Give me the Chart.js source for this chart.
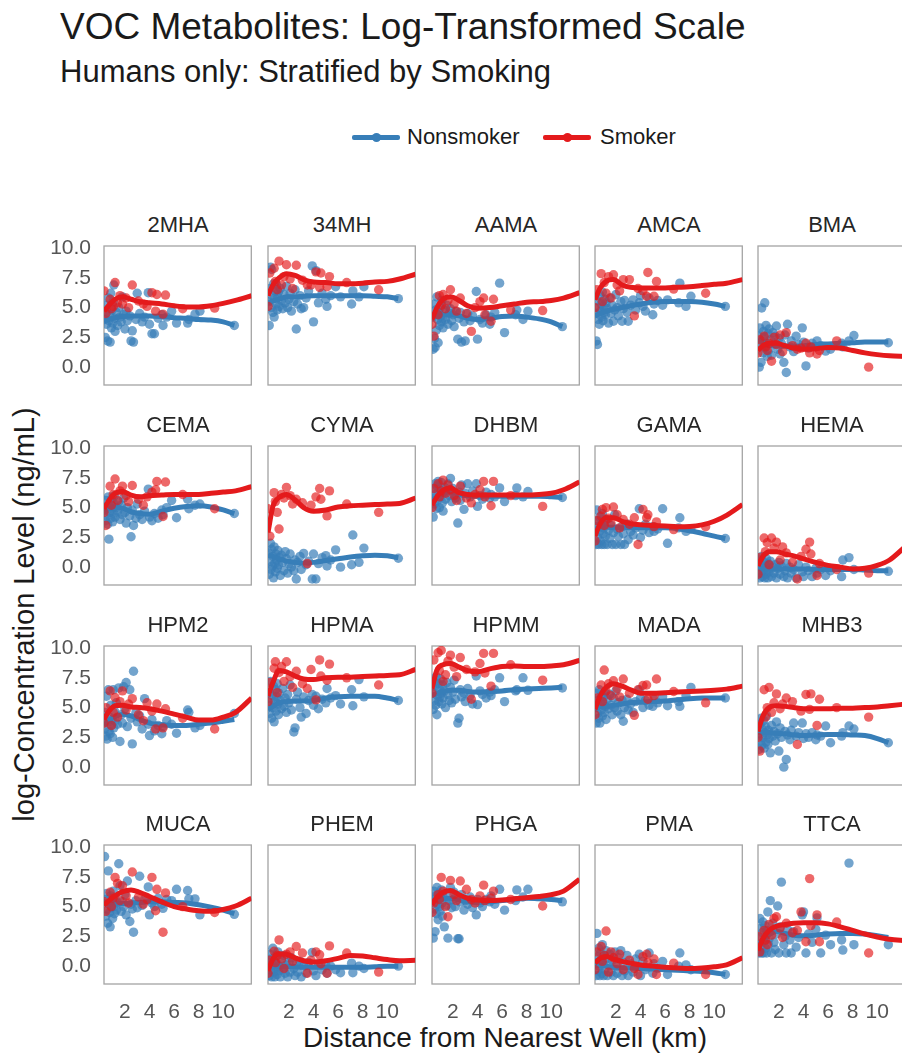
<!DOCTYPE html>
<html><head><meta charset="utf-8">
<script src="https://cdn.jsdelivr.net/npm/chart.js@4"></script>
<style>
html,body{margin:0;padding:0;background:#fff}
body{width:902px;height:1053px;overflow:hidden;position:relative;font-family:"Liberation Sans",Arial,Helvetica,sans-serif;color:#1a1a1a}
.t{position:absolute;white-space:nowrap}
#title{left:60px;top:8px;font-size:37px;line-height:37px}
#subtitle{left:60px;top:56px;font-size:31px;line-height:31px}
.lgText{font-size:22px;line-height:22px;top:126px}
.hl{position:absolute;top:134.5px;width:48px;height:5px;border-radius:2px}
.hl::after{content:"";position:absolute;left:19.5px;top:-2px;width:9px;height:9px;border-radius:50%;background:inherit}
.ptitle{position:absolute;width:148px;text-align:center;font-size:22px;line-height:22px;color:#262626}
#ylab{left:-226px;top:600px;width:500px;text-align:center;font-size:29px;line-height:29px;transform:rotate(-90deg)}
#xlab{left:255px;top:1024px;width:500px;text-align:center;font-size:28px;line-height:28px}
canvas{position:absolute}
</style></head><body>
<div class="t" id="title">VOC Metabolites: Log-Transformed Scale</div>
<div class="t" id="subtitle">Humans only: Stratified by Smoking</div>
<span class="hl" style="left:352px;background:#377eb8"></span>
<div class="t lgText" style="left:407px">Nonsmoker</div>
<span class="hl" style="left:543px;background:#e41a1c"></span>
<div class="t lgText" style="left:600px">Smoker</div>
<div class="t" id="ylab">log-Concentration Level (ng/mL)</div>
<div class="t" id="xlab">Distance from Nearest Well (km)</div>
<div id="panels"></div>
<script>
// ---------- data ----------
const metabolites = ['2MHA','34MH','AAMA','AMCA','BMA','CEMA','CYMA','DHBM','GAMA','HEMA','HPM2','HPMA','HPMM','MADA','MHB3','MUCA','PHEM','PHGA','PMA','TTCA'];
const xTicks = [2,4,6,8,10];
const yTicks = [0,2.5,5,7.5,10];

// distance to nearest well (km) for each participant
const nonsmokerKm = [0.35,0.4,0.45,0.5,0.55,0.6,0.65,0.7,0.75,0.8,0.85,0.9,0.95,1.0,1.05,1.1,1.15,1.2,1.3,1.4,1.5,1.6,1.7,1.8,1.9,2.0,2.1,2.2,2.4,2.5,2.6,2.7,2.9,3.0,3.2,3.4,3.6,3.9,4.0,4.2,4.4,4.7,5.0,5.1,5.4,5.8,6.2,7.1,7.2,7.7,8.1,10.9];
const smokerKm = [0.3,0.45,0.8,0.9,1.05,1.2,1.4,1.6,1.8,2.1,2.3,2.6,3.1,3.5,3.8,4.2,4.5,4.6,5.1,5.3,6.7,9.3];
// x positions at which the smoothed trend values were read
const fitKmNonsmoker = [0.3,0.7,1.2,1.8,2.5,3.2,4,5,6,7,8,9,10,10.9];
const fitKmSmoker = [0.3,0.7,1.2,1.8,2.5,3.2,4,5,6,7,8,9,10,11,12.3];

const ns_2MHA = [4.0,2.5,5.2,3.6,4.6,2.2,5.8,3.9,4.4,2.1,6.2,3.3,4.8,3.7,5.5,6.9,4.1,3.0,4.6,3.5,5.0,4.2,3.8,5.9,4.4,3.2,4.7,3.9,4.3,2.2,3.05,2.1,4.0,6.2,4.5,3.8,4.2,6.25,3.6,2.8,2.8,4.1,4.4,3.5,4.2,4.7,3.7,3.7,4.0,4.45,4.7,3.5];
const sm_2MHA = [6.4,4.5,5.7,4.9,5.1,7.1,5.4,6.0,5.3,5.8,5.0,6.9,5.55,5.3,5.1,6.25,4.7,6.1,4.45,6.05,4.9,4.95];
const fitNs_2MHA = [3.9,4.0,4.15,4.25,4.3,4.3,4.3,4.25,4.15,4.1,4.0,3.95,3.8,3.5];
const fitSm_2MHA = [4.7,5.2,5.7,5.9,5.7,5.5,5.4,5.3,5.15,5.05,5.05,5.15,5.35,5.6,6.0];

const ns_34MH = [5.5,3.5,6.6,8.4,5.0,8.2,6.0,4.6,7.0,4.2,5.8,6.4,5.3,6.9,4.8,5.9,6.3,5.1,6.6,5.6,4.9,6.1,5.4,6.8,5.0,5.7,6.2,4.7,5.5,6.5,3.2,5.3,6.0,4.9,5.0,5.8,6.4,8.5,3.8,8.1,5.4,6.2,5.7,5.1,6.0,6.75,5.9,5.3,6.4,5.9,6.75,5.75];
const sm_34MH = [5.1,7.9,8.3,7.2,6.5,8.9,6.9,7.6,8.6,7.4,6.6,8.55,7.3,6.9,6.9,8.0,6.7,7.9,6.75,7.6,7.1,6.5];
const fitNs_34MH = [5.4,5.55,5.7,5.9,5.9,5.95,6.0,6.0,6.0,6.0,6.0,5.95,5.9,5.75];
const fitSm_34MH = [6.0,6.9,7.5,7.85,7.7,7.35,7.15,7.1,7.0,7.0,7.05,7.15,7.2,7.4,7.8];

const ns_AAMA = [4.2,1.5,5.3,2.4,1.65,4.8,3.1,5.9,4.0,2.05,4.6,3.5,5.0,4.3,3.8,5.6,4.1,3.3,4.8,4.0,5.2,3.6,4.5,4.9,3.9,4.4,3.4,4.7,2.35,4.1,4.6,2.1,3.8,2.2,4.5,3.9,4.3,6.35,2.35,4.0,3.7,4.4,3.6,4.2,4.6,7.05,2.9,4.4,4.8,4.0,4.7,3.4];
const sm_AAMA = [3.6,2.6,4.4,6.0,5.2,6.1,4.9,5.6,6.5,5.3,4.7,5.8,4.5,3.0,5.0,5.5,5.8,4.4,3.85,5.7,4.8,4.75];
const fitNs_AAMA = [4.15,4.3,4.4,4.4,4.3,4.1,4.0,4.1,4.25,4.3,4.2,4.05,3.8,3.4];
const fitSm_AAMA = [4.0,5.0,5.7,5.9,5.6,5.15,4.95,5.0,5.15,5.3,5.45,5.5,5.6,5.8,6.25];

const ns_AMCA = [4.5,2.2,5.6,1.9,4.0,5.0,3.6,6.0,4.7,5.3,4.2,6.3,3.9,5.1,4.6,5.7,4.4,5.4,4.9,3.7,5.8,4.5,5.2,3.85,4.8,6.1,5.0,4.3,5.5,3.85,4.9,5.6,4.6,3.85,5.2,5.65,4.8,5.4,6.0,5.1,4.7,5.8,4.4,5.3,5.6,5.2,5.65,5.4,7.05,5.1,5.95,5.1];
const sm_AMCA = [5.0,6.5,7.85,5.5,7.1,6.2,7.6,5.8,7.75,6.9,6.4,7.35,7.35,4.3,6.6,6.4,5.95,7.95,5.95,7.2,6.55,6.2];
const fitNs_AMCA = [4.3,4.5,4.7,4.85,5.0,5.15,5.3,5.45,5.5,5.5,5.5,5.45,5.3,5.1];
const fitSm_AMCA = [5.65,6.6,7.2,7.35,6.9,6.7,6.65,6.65,6.65,6.7,6.75,6.85,6.95,7.05,7.35];

const ns_BMA = [2.6,0.0,3.3,1.8,0.4,4.97,2.2,1.2,3.0,2.5,5.4,1.6,3.5,2.0,0.9,2.8,1.4,3.2,2.3,1.0,2.9,1.9,2.6,3.45,1.5,2.4,1.1,2.0,0.4,2.7,-0.45,3.6,1.7,2.2,1.3,2.6,1.9,3.3,2.1,0.1,1.6,2.0,1.7,2.2,1.8,1.35,1.5,2.0,1.7,2.2,2.65,2.05];
const sm_BMA = [1.2,2.3,2.6,1.7,1.4,2.0,0.5,2.5,1.9,2.7,1.3,2.9,1.8,1.5,1.6,2.0,1.2,1.7,1.1,1.4,2.2,0.0];
const fitNs_BMA = [2.3,2.1,1.9,1.8,1.75,1.75,1.8,1.9,1.95,2.0,2.05,2.1,2.1,2.1];
const fitSm_BMA = [1.4,1.8,2.0,2.0,1.8,1.6,1.5,1.55,1.65,1.6,1.4,1.2,1.05,0.95,0.9];

const ns_CEMA = [4.8,3.9,5.6,4.3,5.1,3.6,5.9,2.35,4.6,5.3,4.1,5.7,4.9,3.8,5.4,4.5,6.0,4.2,5.0,4.7,5.5,4.0,5.2,4.4,5.8,4.6,3.7,5.0,4.3,2.55,4.8,3.5,4.1,5.3,4.4,4.0,4.7,6.55,4.2,3.9,4.5,4.1,4.8,4.4,5.0,5.6,4.15,5.7,4.9,5.2,5.3,4.5];
const sm_CEMA = [4.6,3.5,6.8,5.2,6.1,7.4,5.6,6.4,6.8,6.0,5.5,6.85,5.7,5.2,5.9,6.3,6.5,7.2,4.25,7.15,6.1,4.9];
const fitNs_CEMA = [4.8,4.9,5.0,4.95,4.65,4.5,4.45,4.7,4.95,5.1,5.15,5.05,4.8,4.5];
const fitSm_CEMA = [4.9,5.6,6.2,6.35,6.05,5.9,6.0,6.05,6.1,6.1,6.1,6.2,6.3,6.4,6.75];

const ns_CYMA = [1.2,-0.6,0.5,2.0,-0.2,1.5,0.1,0.9,-0.9,1.7,0.3,-0.4,1.1,0.6,-0.1,1.4,0.2,0.8,-0.7,1.0,0.4,-0.3,1.3,0.7,-0.5,0.3,1.1,0.0,-0.3,0.6,-1.0,0.4,0.9,-0.2,1.15,0.2,0.5,-1.0,1.1,-1.0,0.3,0.8,0.97,0.1,0.6,1.45,0.0,0.2,2.7,0.4,1.6,0.75];
const sm_CYMA = [4.9,2.6,6.25,5.5,4.6,3.2,6.1,5.8,6.7,6.0,5.3,5.7,5.4,0.3,5.2,5.9,6.6,5.7,4.3,6.4,5.3,4.6];
const fitNs_CYMA = [1.0,0.9,0.7,0.5,0.4,0.35,0.4,0.55,0.7,0.85,0.95,1.0,0.95,0.8];
const fitSm_CYMA = [2.9,5.1,5.85,6.1,5.65,5.0,4.7,4.8,5.05,5.15,5.2,5.25,5.3,5.35,5.8];

const ns_DHBM = [5.8,4.2,6.6,5.3,7.0,6.1,4.9,6.8,5.6,7.2,6.3,5.0,6.5,5.9,7.1,6.2,5.4,4.7,6.7,5.7,6.4,7.0,6.0,7.45,5.5,6.6,6.1,5.8,3.7,6.3,5.6,6.9,4.85,6.2,7.0,5.9,6.4,7.0,5.1,6.0,5.7,6.3,5.8,6.1,5.9,6.65,5.5,6.0,6.65,5.9,6.35,5.85];
const sm_DHBM = [5.0,6.6,7.0,5.9,6.4,7.3,6.2,6.9,6.5,6.0,5.6,6.8,5.8,5.4,6.1,6.5,7.2,5.9,5.15,7.2,6.0,5.1];
const fitNs_DHBM = [5.6,5.9,6.2,6.3,6.1,6.0,5.95,5.95,5.95,5.95,5.95,5.95,5.9,5.85];
const fitSm_DHBM = [5.2,5.9,6.45,6.65,6.25,6.1,6.05,6.05,6.05,6.05,6.05,6.1,6.2,6.5,7.15];

const ns_GAMA = [3.4,1.9,4.8,2.5,3.9,1.9,3.0,4.2,2.2,3.6,1.9,4.5,2.8,3.3,1.9,3.8,2.6,4.0,1.9,3.1,2.4,3.5,1.9,2.9,4.4,1.9,3.2,2.6,1.9,3.4,2.8,1.9,3.6,2.3,3.0,2.7,3.3,4.9,2.5,3.1,3.6,2.9,3.4,3.0,3.2,4.9,2.0,3.3,4.15,3.0,3.2,2.4];
const sm_GAMA = [2.2,3.9,4.3,4.85,3.5,5.0,4.1,3.7,5.05,4.4,3.3,4.0,3.6,4.15,1.9,4.85,4.15,4.4,3.4,3.8,3.15,3.4];
const fitNs_GAMA = [3.2,3.3,3.35,3.35,3.3,3.3,3.3,3.3,3.3,3.25,3.05,2.85,2.6,2.4];
const fitSm_GAMA = [2.6,3.6,4.15,4.15,3.85,3.65,3.55,3.5,3.45,3.4,3.42,3.55,3.85,4.35,5.25];

const ns_HEMA = [-0.2,0.6,-0.9,0.2,-0.5,0.9,-0.8,0.0,-0.3,0.4,-0.9,0.1,-0.6,0.7,-0.2,-0.9,0.3,-0.4,0.5,-0.8,0.0,-0.5,0.2,-0.9,-0.1,0.4,-0.6,0.1,-0.8,-0.3,0.3,-0.9,0.0,-0.5,-0.2,-0.9,0.2,-0.4,-0.8,0.0,-0.3,-0.8,-0.1,-0.5,-0.2,-0.7,-0.3,-0.8,0.6,0.8,-0.2,-0.35];
const sm_HEMA = [-0.6,0.8,2.45,1.3,2.05,0.2,2.45,1.6,2.1,0.6,1.7,1.2,0.4,-1.0,0.9,1.5,2.1,1.1,-0.7,0.3,-0.2,-0.5];
const fitNs_HEMA = [-0.1,-0.1,-0.15,-0.15,-0.15,-0.15,-0.15,-0.2,-0.2,-0.2,-0.2,-0.25,-0.3,-0.3];
const fitSm_HEMA = [0.1,0.9,1.3,1.3,1.1,0.95,0.7,0.4,0.15,0.0,-0.15,-0.1,0.15,0.6,1.75];

const ns_HPM2 = [3.2,4.6,2.6,5.95,2.35,3.8,6.5,3.0,4.2,2.8,5.2,3.5,4.0,2.5,6.5,3.3,4.7,3.9,5.4,3.6,6.65,2.15,4.4,3.7,6.75,4.9,7.1,3.4,6.5,4.1,1.95,8.05,4.6,3.8,4.3,3.2,5.75,3.6,2.65,4.0,3.05,3.5,2.8,3.4,3.9,3.6,2.85,4.8,4.6,3.3,3.5,4.5];
const sm_HPM2 = [3.7,5.0,6.4,3.5,4.6,5.85,4.2,5.5,6.4,4.8,5.3,5.75,4.4,3.9,5.4,4.7,3.2,5.3,3.3,4.9,4.1,3.2];
const fitNs_HPM2 = [3.5,3.9,4.25,4.45,4.3,4.0,3.7,3.55,3.5,3.5,3.6,3.7,3.85,4.0];
const fitSm_HPM2 = [4.0,4.7,5.15,5.2,5.05,5.0,4.9,4.7,4.45,4.2,3.95,3.95,4.2,4.6,5.8];

const ns_HPMA = [5.2,6.3,4.5,7.2,5.7,4.1,6.0,5.0,6.8,3.8,5.5,6.5,4.7,5.9,7.0,5.3,4.4,6.2,5.6,4.9,6.6,5.1,5.8,4.6,6.1,5.4,6.9,4.8,2.95,3.3,5.7,6.3,5.0,4.2,5.9,4.5,5.6,6.1,5.2,5.95,4.9,5.7,5.4,6.6,5.8,6.0,5.3,6.5,5.15,7.35,5.9,5.6];
const sm_HPMA = [5.5,7.1,8.3,8.85,6.25,7.95,8.45,7.2,8.85,7.6,6.7,8.05,7.0,6.6,8.2,5.65,9.0,7.65,7.3,8.65,7.5,6.9];
const fitNs_HPMA = [4.8,5.1,5.4,5.5,5.55,5.55,5.6,5.8,5.9,5.95,5.95,5.95,5.8,5.6];
const fitSm_HPMA = [5.95,7.1,8.1,8.0,7.65,7.4,7.35,7.5,7.55,7.55,7.6,7.65,7.7,7.75,8.2];

const ns_HPMM = [6.3,4.85,7.2,5.6,6.8,5.2,7.6,4.4,6.0,7.0,5.5,6.6,5.9,7.4,6.2,5.3,6.9,5.8,6.4,5.0,7.1,6.1,5.6,6.7,5.4,6.3,7.3,5.7,3.7,4.1,6.5,5.9,6.2,5.5,6.6,6.0,5.3,7.65,5.25,6.4,6.1,5.8,6.3,6.0,6.5,7.5,5.5,6.4,6.5,7.5,6.45,6.65];
const sm_HPMM = [6.2,9.0,9.6,8.1,9.8,7.2,7.75,8.9,9.4,8.4,7.6,9.2,8.2,5.7,8.0,8.7,9.55,7.9,6.8,9.55,8.6,7.3];
const fitNs_HPMM = [6.0,6.2,6.35,6.45,6.45,6.35,6.3,6.35,6.4,6.5,6.55,6.6,6.65,6.7];
const fitSm_HPMM = [6.6,8.15,8.6,8.7,8.4,8.1,8.0,8.25,8.45,8.5,8.45,8.45,8.5,8.6,8.95];

const ns_MADA = [5.0,3.7,6.2,4.5,5.6,4.1,6.5,3.7,5.3,4.8,6.0,4.3,5.5,5.9,4.6,6.3,5.1,4.0,5.7,4.9,6.1,5.2,4.4,5.8,5.0,6.4,4.7,5.4,4.4,5.6,3.85,5.0,5.7,4.8,5.3,4.6,5.5,6.5,5.8,5.0,5.6,5.2,5.1,5.7,5.4,5.9,5.15,5.5,5.1,6.0,6.7,5.8];
const sm_MADA = [4.4,5.8,6.9,5.5,8.15,6.4,7.0,6.0,7.25,6.6,5.9,7.4,6.2,4.35,6.5,6.85,6.9,5.7,6.0,7.4,6.35,5.4];
const fitNs_MADA = [5.0,5.05,5.1,5.2,5.3,5.4,5.45,5.5,5.55,5.65,5.75,5.8,5.8,5.8];
const fitSm_MADA = [4.85,5.95,6.7,7.0,6.8,6.5,6.2,6.2,6.25,6.3,6.35,6.4,6.45,6.55,6.8];

const ns_MHB3 = [2.8,1.5,3.6,2.2,4.1,1.8,3.2,2.5,3.9,1.6,2.9,3.4,2.1,4.3,2.7,1.9,3.1,2.4,1.2,3.5,2.6,3.0,2.2,3.8,2.8,1.35,3.3,2.5,0.0,3.0,0.65,2.7,2.3,3.1,3.7,2.6,2.9,3.7,2.4,2.8,2.5,2.9,2.3,2.7,2.6,3.45,2.05,2.6,2.9,3.45,3.2,2.05];
const sm_MHB3 = [2.5,1.35,6.5,4.2,5.0,6.7,4.6,5.4,6.15,4.9,5.3,5.8,5.5,1.9,4.7,6.1,4.85,6.15,3.5,5.7,5.0,4.2];
const fitNs_MHB3 = [2.9,2.9,2.9,2.85,2.8,2.7,2.65,2.7,2.75,2.75,2.7,2.65,2.4,2.05];
const fitSm_MHB3 = [3.0,4.3,5.0,5.15,5.1,5.0,4.9,4.9,4.9,4.95,4.95,5.0,5.05,5.15,5.3];

const ns_MUCA = [9.2,5.6,4.2,6.1,4.8,3.6,8.0,5.2,4.5,3.3,5.9,4.9,5.5,4.0,6.3,5.0,4.4,5.7,4.7,5.3,8.6,6.75,4.6,5.4,5.0,6.0,4.3,7.15,3.75,5.2,4.8,2.85,5.5,4.9,7.55,5.1,5.6,6.65,4.3,5.3,5.0,5.7,5.2,4.85,5.6,5.5,6.45,6.35,5.65,5.65,4.3,4.35];
const sm_MUCA = [5.4,4.6,6.2,5.0,5.7,7.45,6.95,5.5,6.75,5.9,5.3,7.9,5.8,5.2,5.6,7.45,4.65,6.45,2.85,6.15,5.0,4.5];
const fitNs_MUCA = [5.4,5.35,5.3,5.25,5.3,5.35,5.4,5.4,5.35,5.3,5.15,4.95,4.7,4.4];
const fitSm_MUCA = [5.1,5.5,5.9,6.25,6.4,6.2,5.85,5.4,5.0,4.8,4.65,4.6,4.75,5.05,5.7];

const ns_PHEM = [0.3,-0.8,1.0,-0.3,0.6,-0.9,0.1,1.5,-0.5,0.4,-0.9,0.8,-0.2,0.2,-0.7,1.2,-0.4,0.0,-0.9,0.5,-0.3,0.9,-0.6,0.1,-0.9,0.3,-0.5,0.7,-0.2,-0.8,0.2,-0.5,0.4,-0.9,0.0,-0.6,0.3,1.15,-0.4,-0.8,0.2,-0.3,0.1,-0.6,0.0,-0.3,-0.55,0.25,-0.55,0.0,-0.2,0.0];
const sm_PHEM = [-0.6,0.5,1.25,0.3,0.9,2.2,0.6,-0.2,1.0,1.2,0.4,1.65,1.1,-0.6,0.5,1.2,0.95,0.2,-0.6,1.7,1.1,-0.5];
const fitNs_PHEM = [-0.1,-0.05,0.0,0.0,-0.05,-0.1,-0.1,-0.1,-0.1,-0.1,-0.1,-0.05,0.0,0.0];
const fitSm_PHEM = [-0.4,0.6,1.05,1.0,0.7,0.45,0.35,0.45,0.65,0.9,0.85,0.7,0.55,0.45,0.5];

const ns_PHGA = [5.6,2.35,6.3,4.8,2.9,5.9,4.4,6.6,5.2,3.9,6.1,5.0,4.6,5.7,6.4,5.3,4.2,5.8,3.3,6.0,5.1,2.35,5.5,6.6,4.9,5.6,6.2,5.0,2.3,2.3,5.4,6.0,4.7,5.5,5.2,5.8,4.9,4.3,5.6,5.3,5.0,5.6,5.4,5.9,5.2,6.45,4.7,5.5,6.4,5.8,6.45,5.4];
const sm_PHGA = [4.5,5.3,6.0,5.6,7.45,6.3,5.0,4.15,7.2,6.0,5.5,7.15,6.45,5.6,5.3,5.9,6.8,5.5,5.7,6.3,5.6,5.05];
const fitNs_PHGA = [5.3,5.5,5.65,5.7,5.55,5.4,5.35,5.4,5.5,5.6,5.7,5.65,5.6,5.5];
const fitSm_PHGA = [5.15,5.8,6.2,6.35,6.0,5.7,5.55,5.5,5.55,5.65,5.75,5.85,6.0,6.3,7.3];

const ns_PMA = [0.3,-0.8,2.75,0.8,-0.4,1.5,0.0,-0.8,1.1,0.4,-0.6,1.8,0.2,-0.8,0.9,-0.3,0.6,1.3,-0.8,0.1,1.0,-0.5,0.5,-0.8,1.2,0.0,-0.6,0.7,1.3,-0.8,0.3,-0.4,0.9,-0.8,0.2,-0.5,0.6,1.0,-0.8,0.4,-0.3,1.1,-0.6,0.2,-0.2,0.4,-0.7,0.0,1.1,0.1,-0.3,-0.7];
const sm_PMA = [-0.3,1.2,1.65,0.4,0.9,2.95,-0.5,1.2,0.7,0.2,1.0,-0.3,0.5,-0.2,-0.7,0.8,1.0,0.3,0.6,-0.7,0.25,-0.7];
const fitNs_PMA = [0.1,0.05,0.0,-0.1,-0.15,-0.15,-0.2,-0.25,-0.3,-0.35,-0.4,-0.45,-0.55,-0.7];
const fitSm_PMA = [0.25,0.65,0.8,0.6,0.4,0.25,0.1,0.0,-0.1,-0.15,-0.2,-0.15,-0.05,0.1,0.7];

const ns_TTCA = [2.4,1.1,4.0,1.6,3.2,1.1,2.8,3.7,1.1,2.1,3.4,1.5,2.6,1.1,3.0,4.55,1.8,2.3,5.5,1.1,3.6,2.0,1.4,2.7,5.05,1.1,3.3,7.05,1.8,2.5,1.1,3.1,2.2,1.1,2.9,1.6,2.4,4.3,4.55,1.1,2.7,2.0,3.1,4.05,1.1,2.6,1.8,2.2,1.35,8.65,1.8,1.8];
const sm_TTCA = [2.5,1.2,3.0,2.2,1.8,3.5,2.6,4.0,4.15,3.2,2.4,3.6,2.8,3.0,4.55,2.05,7.35,3.4,4.3,2.05,3.7,1.1];
const fitNs_TTCA = [1.6,2.3,2.65,2.9,2.75,2.6,2.55,2.6,2.7,2.75,2.75,2.7,2.55,2.4];
const fitSm_TTCA = [1.3,2.3,3.0,3.35,3.5,3.6,3.65,3.65,3.55,3.3,3.0,2.7,2.45,2.25,2.15];

const panelSeries = {
  '2MHA':[ns_2MHA,sm_2MHA,fitNs_2MHA,fitSm_2MHA], '34MH':[ns_34MH,sm_34MH,fitNs_34MH,fitSm_34MH],
  'AAMA':[ns_AAMA,sm_AAMA,fitNs_AAMA,fitSm_AAMA], 'AMCA':[ns_AMCA,sm_AMCA,fitNs_AMCA,fitSm_AMCA],
  'BMA':[ns_BMA,sm_BMA,fitNs_BMA,fitSm_BMA], 'CEMA':[ns_CEMA,sm_CEMA,fitNs_CEMA,fitSm_CEMA],
  'CYMA':[ns_CYMA,sm_CYMA,fitNs_CYMA,fitSm_CYMA], 'DHBM':[ns_DHBM,sm_DHBM,fitNs_DHBM,fitSm_DHBM],
  'GAMA':[ns_GAMA,sm_GAMA,fitNs_GAMA,fitSm_GAMA], 'HEMA':[ns_HEMA,sm_HEMA,fitNs_HEMA,fitSm_HEMA],
  'HPM2':[ns_HPM2,sm_HPM2,fitNs_HPM2,fitSm_HPM2], 'HPMA':[ns_HPMA,sm_HPMA,fitNs_HPMA,fitSm_HPMA],
  'HPMM':[ns_HPMM,sm_HPMM,fitNs_HPMM,fitSm_HPMM], 'MADA':[ns_MADA,sm_MADA,fitNs_MADA,fitSm_MADA],
  'MHB3':[ns_MHB3,sm_MHB3,fitNs_MHB3,fitSm_MHB3], 'MUCA':[ns_MUCA,sm_MUCA,fitNs_MUCA,fitSm_MUCA],
  'PHEM':[ns_PHEM,sm_PHEM,fitNs_PHEM,fitSm_PHEM], 'PHGA':[ns_PHGA,sm_PHGA,fitNs_PHGA,fitSm_PHGA],
  'PMA':[ns_PMA,sm_PMA,fitNs_PMA,fitSm_PMA], 'TTCA':[ns_TTCA,sm_TTCA,fitNs_TTCA,fitSm_TTCA]
};

// ---------- layout ----------
const FONT = '"Liberation Sans", Arial, Helvetica, sans-serif';
const colLefts = [104,268,432,595,758];
const rowTops = [246,446,646,845];
const PW = 148, PH = 139;
const YW = 60, PT = 32, PR = 4, XH = 52;
const BLUE = '#377eb8', RED = '#e41a1c';

const framePlugin = {
  id:'frame',
  beforeDatasetsDraw(chart){
    const a = chart.chartArea, ctx = chart.ctx;
    ctx.save(); ctx.strokeStyle = '#a4a4a4'; ctx.lineWidth = 1.3;
    ctx.strokeRect(a.left, a.top, a.right - a.left, a.bottom - a.top);
    ctx.restore();
  }
};
function pairs(xs, ys){ return xs.map((x,i)=>({x:x, y:ys[i]})); }

const host = document.getElementById('panels');
metabolites.forEach((name, i) => {
  const r = Math.floor(i/5), c = i%5;
  const left = colLefts[c], top = rowTops[r];
  const isLeft = c === 0, isBottom = r === 3;
  const t = document.createElement('div');
  t.className = 'ptitle'; t.textContent = name;
  t.style.left = left + 'px'; t.style.top = (top - 32) + 'px';
  host.appendChild(t);
  const cv = document.createElement('canvas');
  const W = YW + PW + PR, H = PT + PH + XH;
  cv.width = W; cv.height = H;
  cv.style.left = (left - YW) + 'px'; cv.style.top = (top - PT) + 'px';
  cv.style.width = W + 'px'; cv.style.height = H + 'px';
  host.appendChild(cv);
  const [ns, sm, fns, fsm] = panelSeries[name];
  new Chart(cv, {
    type:'scatter',
    data:{datasets:[
      {type:'line', data:pairs(fitKmSmoker, fsm), borderColor:RED, borderWidth:5, pointRadius:0, pointHoverRadius:0, fill:false, cubicInterpolationMode:'monotone', order:1},
      {data:pairs(smokerKm, sm), backgroundColor:'rgba(228,26,28,0.66)', borderWidth:0, pointRadius:4.7, order:2},
      {type:'line', data:pairs(fitKmNonsmoker, fns), borderColor:BLUE, borderWidth:5, pointRadius:0, pointHoverRadius:0, fill:false, cubicInterpolationMode:'monotone', order:3},
      {data:pairs(nonsmokerKm, ns), backgroundColor:'rgba(55,126,184,0.7)', borderWidth:0, pointRadius:4.7, order:4}
    ]},
    options:{
      responsive:false, animation:false, events:[],
      layout:{padding:{top:PT, right:PR, left:0, bottom:0}},
      plugins:{legend:{display:false}, tooltip:{enabled:false}},
      scales:{
        x:{type:'linear', min:0.3, max:12.28,
           grid:{display:false, drawTicks:false}, border:{display:false},
           afterBuildTicks:s=>{ s.ticks = xTicks.map(v=>({value:v})); },
           afterFit:s=>{ s.height = XH; },
           ticks:{display:isBottom, autoSkip:false, maxRotation:0, minRotation:0, padding:16, color:'#555555', font:{family:FONT, size:21}, callback:v=>String(v)}},
        y:{type:'linear', min:-1.5, max:10.17,
           grid:{display:false, drawTicks:false}, border:{display:false},
           afterBuildTicks:s=>{ s.ticks = yTicks.map(v=>({value:v})); },
           afterFit:s=>{ s.width = YW; },
           ticks:{display:isLeft, autoSkip:false, padding:13, color:'#555555', font:{family:FONT, size:21}, callback:v=>Number(v).toFixed(1)}}
      }
    },
    plugins:[framePlugin]
  });
});
</script>
</body></html>
